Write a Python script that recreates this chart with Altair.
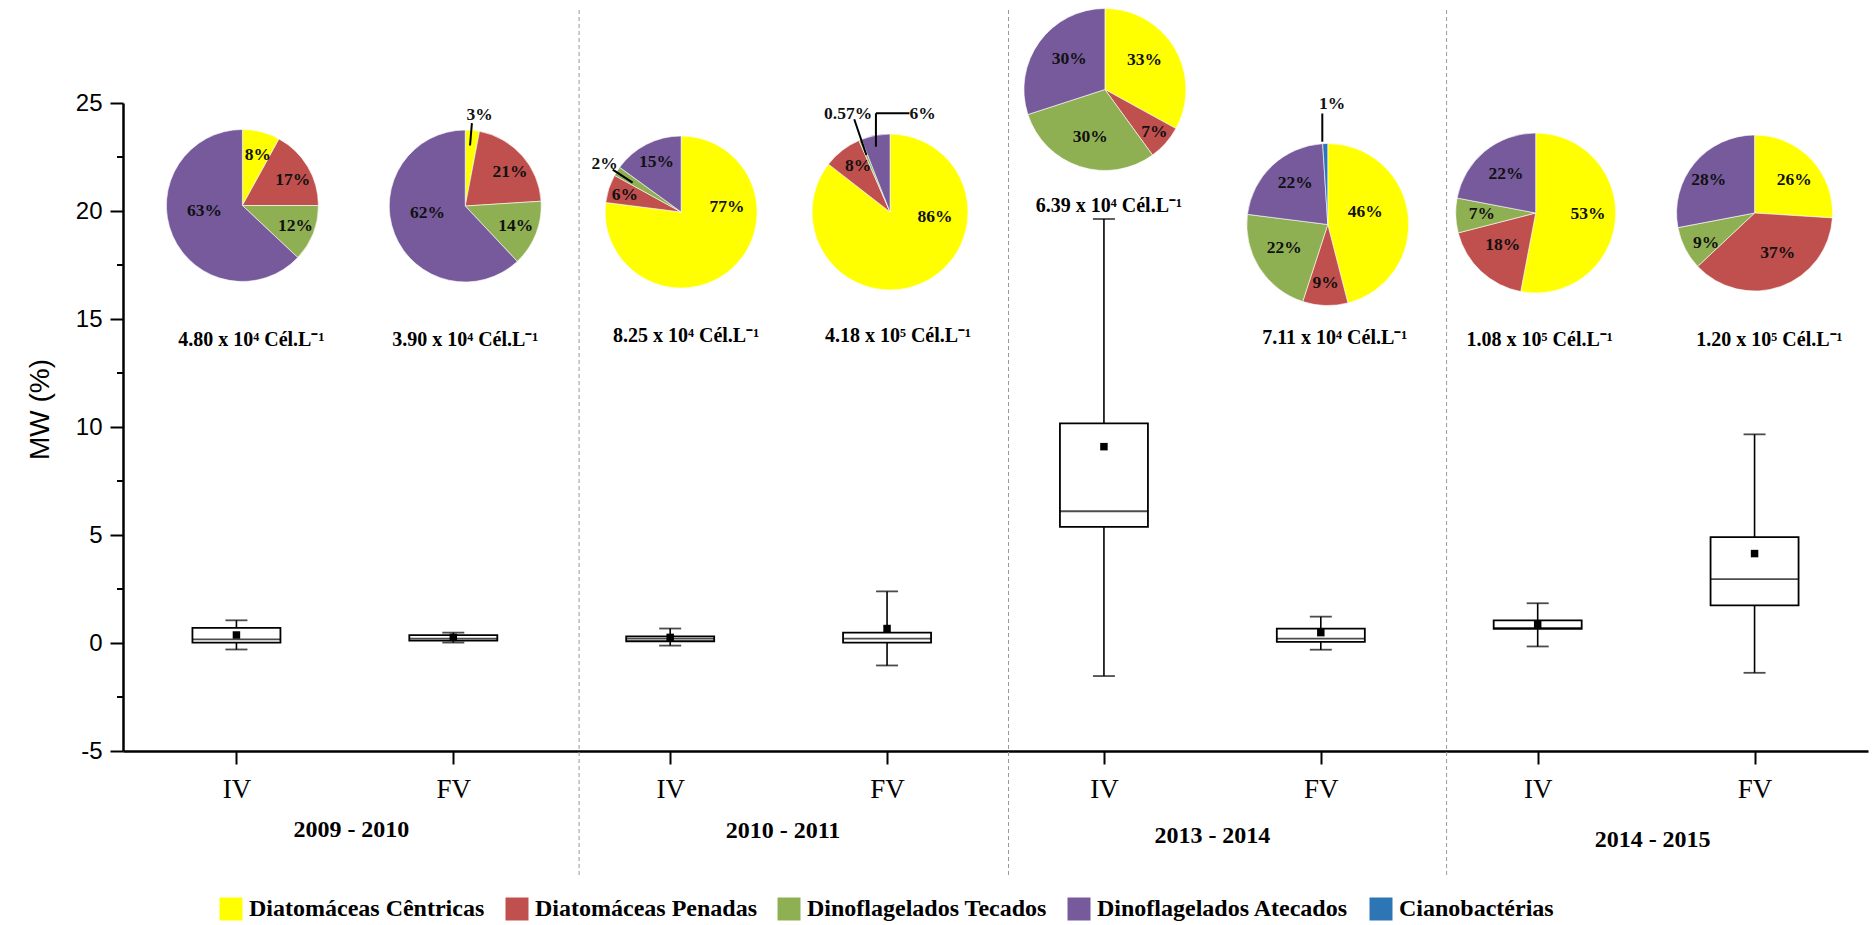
import json
import math

import altair as alt
import pandas as pd

# ---------------------------------------------------------------- data
SAMPLES = ["IV", "FV", "IV", "FV", "IV", "FV", "IV", "FV"]
SEASONS = ["2009 - 2010", "2010 - 2011", "2013 - 2014", "2014 - 2015"]

# MW (%) box statistics per sample
MW_MAX = [1.05, 0.48, 0.67, 2.39, 19.63, 1.22, 1.84, 9.66]
MW_Q3 = [0.70, 0.36, 0.31, 0.48, 10.17, 0.67, 1.05, 4.90]
MW_MEDIAN = [0.17, 0.20, 0.20, 0.20, 6.10, 0.20, 0.70, 2.96]
MW_Q1 = [0.02, 0.11, 0.08, 0.02, 5.38, 0.05, 0.65, 1.74]
MW_MIN = [-0.30, 0.02, -0.12, -1.04, -1.53, -0.31, -0.16, -1.38]
MW_MEAN = [0.37, 0.26, 0.26, 0.67, 9.09, 0.48, 0.85, 4.14]

# phytoplankton composition (%) per sample
GROUPS = ["Diatomáceas Cêntricas", "Diatomáceas Penadas", "Dinoflagelados Tecados",
          "Dinoflagelados Atecados", "Cianobactérias"]
CENTRICAS = [8, 3, 77, 86, 33, 46, 53, 26]
PENADAS = [17, 21, 6, 8, 7, 9, 18, 37]
TECADOS = [12, 14, 2, 0.57, 30, 22, 7, 9]
ATECADOS = [63, 62, 15, 6, 30, 22, 22, 28]
CIANO = [0, 0, 0, 0, 0, 1, 0, 0]
SHARES = [CENTRICAS, PENADAS, TECADOS, ATECADOS, CIANO]

# total density, mantissa x 10^exp cells per litre
DENSITY = [4.80, 3.90, 8.25, 4.18, 6.39, 7.11, 1.08, 1.20]
DENSITY_EXP = [4, 4, 4, 5, 4, 4, 5, 5]

# ---------------------------------------------------------------- layout
GROUP_COLORS = ["#FFFF00", "#C0504D", "#8FB052", "#765A9C", "#2E75B6"]
W, H = 1745, 648
PAD_L, PAD_T = 123, 103
PAGE_H = 921
X_DOMAIN = [-0.5, 7.5]
Y_DOMAIN = [-5, 25]
UX = W / (X_DOMAIN[1] - X_DOMAIN[0])   # px per x unit
UY = H / (Y_DOMAIN[1] - Y_DOMAIN[0])   # px per y unit


def y_at(page_y):
    """Value on the MW axis that sits at a given page row."""
    return Y_DOMAIN[1] - (page_y - PAD_T) / UY


PIE_SHIFT_PX = [6, 12, 11, 3, 1, 7, -2, 0]
PIE_CENTER_ROW = [205.5, 206, 212, 212, 89.5, 224.5, 213, 213]
PIE_RADIUS = [76, 76, 76, 78, 81, 81, 80, 78]
DENSITY_SHIFT_PX = [15, 12, 16, 11, 5, 14, 2, 15]
DENSITY_ROW = [346, 346, 342, 342, 212, 344, 346, 346]

# percentage label offsets (px) from each pie centre, per group
LABEL_OFFSETS = [
    [(15.5, -51), (50.7, -25.2), (53.4, 20.5), (-38, 5.8), None],
    [(14.4, -91), (45, -33.8), (50.7, 20.2), (-38, 7.2), None],
    [(46.2, -5), (-56.5, -16.7), (-77, -48.3), (-24.8, -50), None],
    [(45.2, 4.7), (-32.2, -46), (-42.2, -97.7), (32.8, -97.7), None],
    [(39.8, -29.5), (49.8, 42.2), (-14.8, 47.2), (-35.8, -30.2), None],
    [(37.8, -12.2), (-2.2, 58.2), (-43.8, 23.8), (-32.8, -41.2), (4.5, -120.5)],
    [(52.5, 0.7), (-33.2, 32.3), (-54.2, 1), (-29.8, -39), None],
    [(39.8, -33.3), (23.2, 40), (-48.8, 30), (-46.2, -33.3), None],
]
# leader lines (pie, x1, y1, x2, y2) in px from the pie centre
LEADERS = [
    (1, 6.7, -82.8, 4.8, -60.5),
    (2, -68.8, -42.3, -48.8, -29.3),
    (3, -36, -92.7, -23.8, -57),
    (3, 19.5, -98.7, -14.2, -98.7),
    (3, -14.2, -98.7, -14.2, -65.3),
    (5, -5.5, -111, -5.5, -82.8),
]
SEPARATORS = [1.58, 3.56, 5.58]
SEASON_SHIFT = [0.03, 0.02, 0.0, 0.03]
SEASON_ROW = [830, 831, 836, 840]
MINOR_TICKS = [v + 2.5 for v in range(Y_DOMAIN[0], Y_DOMAIN[1], 5)]

SERIF = "Liberation Serif"
SANS = "Liberation Sans"
SUP = {4: "\u2074", 5: "\u2075"}

# ---------------------------------------------------------------- tables
idx = list(range(len(SAMPLES)))
box_df = pd.DataFrame({
    "idx": idx, "sample": SAMPLES, "max": MW_MAX, "q3": MW_Q3,
    "median": MW_MEDIAN, "q1": MW_Q1, "min": MW_MIN, "mean": MW_MEAN,
})

pie_cx = [i + PIE_SHIFT_PX[i] / UX for i in idx]
pie_cy = [y_at(r) for r in PIE_CENTER_ROW]

pie_rows, label_rows = [], []
for p in idx:
    for g, series in enumerate(SHARES):
        v = series[p]
        if v <= 0:
            continue
        pie_rows.append({"pie": p, "order": g, "group": GROUPS[g], "value": v,
                         "cx": pie_cx[p], "cy": pie_cy[p], "r": PIE_RADIUS[p]})
        dx, dy = LABEL_OFFSETS[p][g]
        text = f"{v:g}%" if v != int(v) else f"{int(v)}%"
        label_rows.append({"x": pie_cx[p] + dx / UX, "y": pie_cy[p] - dy / UY,
                           "text": text})
pie_df = pd.DataFrame(pie_rows)
label_df = pd.DataFrame(label_rows)

leader_df = pd.DataFrame([
    {"x": pie_cx[p] + x1 / UX, "y": pie_cy[p] - y1 / UY,
     "x2": pie_cx[p] + x2 / UX, "y2": pie_cy[p] - y2 / UY}
    for p, x1, y1, x2, y2 in LEADERS
])

density_df = pd.DataFrame({
    "x": [i + DENSITY_SHIFT_PX[i] / UX for i in idx],
    "y": [y_at(r) for r in DENSITY_ROW],
    "text": [f"{m:.2f} x 10{SUP[e]} Cél.L\u207b\u00b9" for m, e in zip(DENSITY, DENSITY_EXP)],
})

season_df = pd.DataFrame({
    "x": [2 * k + 0.5 + SEASON_SHIFT[k] for k in range(len(SEASONS))],
    "y": [y_at(r) for r in SEASON_ROW],
    "text": SEASONS,
})
sep_df = pd.DataFrame({"x": SEPARATORS})
minor_df = pd.DataFrame({"v": MINOR_TICKS})

# ---------------------------------------------------------------- scales / axes
xs = alt.Scale(domain=X_DOMAIN, nice=False, zero=False)
ys = alt.Scale(domain=Y_DOMAIN, nice=False, zero=False)

x_axis = alt.Axis(
    values=idx, labelExpr=f"{json.dumps(SAMPLES)}[datum.value]", title=None,
    grid=False, tickSize=13, tickWidth=2, tickColor="black",
    domainWidth=2.5, domainColor="black", labelFont=SERIF, labelFontSize=27,
    labelColor="black", labelPadding=12, labelFlush=False,
)
y_axis = alt.Axis(
    values=list(range(Y_DOMAIN[0], Y_DOMAIN[1] + 1, 5)), labelExpr="'' + datum.value",
    title="MW (%)", titleFont=SANS, titleFontSize=28, titleFontWeight="normal",
    titleColor="black", titleX=-83, titleY=306, titleAngle=-90,
    titleBaseline="middle", titleAlign="center",
    grid=False, tickSize=13, tickWidth=2, tickColor="black",
    domainWidth=2.5, domainColor="black", labelFont=SANS, labelFontSize=24,
    labelColor="black", labelPadding=8, labelFlush=False,
)


def X(field):
    return alt.X(field, type="quantitative", scale=xs, axis=x_axis)


def Y(field):
    return alt.Y(field, type="quantitative", scale=ys, axis=y_axis)


# ---------------------------------------------------------------- layers
separators = alt.Chart(sep_df).mark_rule(
    color="#9a9a9a", strokeWidth=1, strokeDash=[4, 3]
).encode(
    x=X("x"),
    y=alt.value(10 - PAD_T),
    y2=alt.value(877 - PAD_T),
)

minor = alt.Chart(minor_df).mark_rule(color="black", strokeWidth=2).encode(
    y=Y("v"),
    x=alt.value(-6),
    x2=alt.value(0),
)

base = alt.Chart(box_df)
whiskers = base.mark_rule(color="black", strokeWidth=1.6).encode(
    x=X("idx"), y=Y("min"), y2="max:Q",
)
boxes = base.mark_bar(size=88, fill="white", stroke="black", strokeWidth=1.8).encode(
    x=X("idx"), y=Y("q1"), y2="q3:Q",
)
medians = base.mark_tick(orient="horizontal", size=88, thickness=1.8, color="black").encode(
    x=X("idx"), y=Y("median"),
)
cap_hi = base.mark_tick(orient="horizontal", size=22, thickness=1.8, color="black").encode(
    x=X("idx"), y=Y("max"),
)
cap_lo = base.mark_tick(orient="horizontal", size=22, thickness=1.8, color="black").encode(
    x=X("idx"), y=Y("min"),
)
means = base.mark_square(size=56, color="black", opacity=1).encode(
    x=X("idx"), y=Y("mean"),
)

legend = alt.Legend(
    orient="none", legendX=96, legendY=794, direction="horizontal", title=None,
    symbolType="square", symbolSize=529, symbolStrokeWidth=0, symbolOpacity=1,
    labelFont=SERIF, labelFontSize=24, labelFontWeight="bold", labelColor="black",
    labelLimit=0, labelOffset=6, columnPadding=20, padding=0,
)

pies = alt.Chart(pie_df).transform_joinaggregate(
    total="sum(value)", groupby=["pie"]
).transform_calculate(
    frac="datum.value / datum.total"
).transform_window(
    t1="sum(frac)", groupby=["pie"], sort=[alt.SortField("order")], frame=[None, 0]
).transform_calculate(
    t0="datum.t1 - datum.frac"
).mark_arc(stroke="white", strokeWidth=0.6).encode(
    x=X("cx"),
    y=Y("cy"),
    theta=alt.Theta("t0:Q", scale=alt.Scale(domain=[0, 1], range=[0, 2 * math.pi]), stack=None),
    theta2="t1:Q",
    radius=alt.Radius("r:Q", scale=None),
    color=alt.Color("group:N", scale=alt.Scale(domain=GROUPS, range=GROUP_COLORS), legend=legend),
)

leaders = alt.Chart(leader_df).mark_rule(color="black", strokeWidth=2).encode(
    x=X("x"), y=Y("y"), x2="x2:Q", y2="y2:Q",
)

pct_labels = alt.Chart(label_df).mark_text(
    font=SERIF, fontSize=17.5, fontWeight="bold", color="#111111",
    align="center", baseline="middle",
).encode(x=X("x"), y=Y("y"), text="text:N")

density_labels = alt.Chart(density_df).mark_text(
    font=SERIF, fontSize=20, fontWeight="bold", color="black",
    align="center", baseline="alphabetic",
).encode(x=X("x"), y=Y("y"), text="text:N")

season_labels = alt.Chart(season_df).mark_text(
    font=SERIF, fontSize=24, fontWeight="bold", color="black",
    align="center", baseline="middle",
).encode(x=X("x"), y=Y("y"), text="text:N")

chart = alt.layer(
    separators, minor, whiskers, boxes, medians, cap_hi, cap_lo, means,
    pies, leaders, pct_labels, density_labels, season_labels,
).properties(
    width=W, height=H,
    autosize=alt.AutoSizeParams(type="none"),
    padding={"left": PAD_L, "top": PAD_T, "right": 1874 - PAD_L - W,
             "bottom": PAGE_H - PAD_T - H},
    background="white",
).configure_view(stroke=None)

chart.save("out.html", embed_options={"renderer": "svg", "actions": False})
